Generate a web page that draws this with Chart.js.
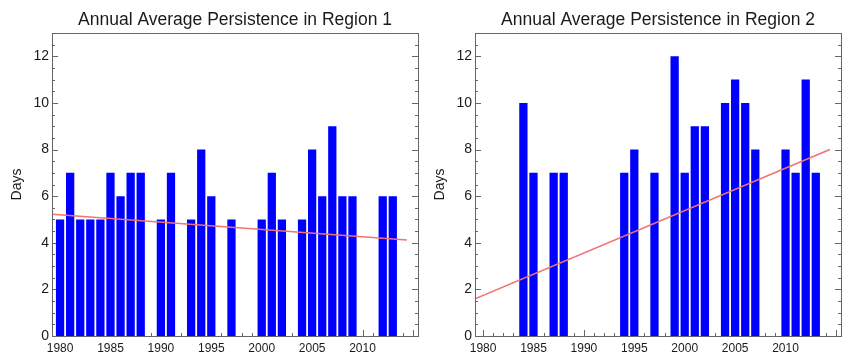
<!DOCTYPE html>
<html>
<head>
<meta charset="utf-8">
<script src="https://cdn.jsdelivr.net/npm/chart.js@4"></script>
<style>
  body { margin: 0; background: #fff; }
  .chart-box { position: absolute; top: 0; width: 425px; height: 358px; }
</style>
</head>
<body>
<div class="chart-box" style="left:0"><canvas id="region1Chart"></canvas></div>
<div class="chart-box" style="left:425px"><canvas id="region2Chart"></canvas></div>
<script>
const years = [
  1980, 1981, 1982, 1983, 1984, 1985, 1986, 1987, 1988, 1989,
  1990, 1991, 1992, 1993, 1994, 1995, 1996, 1997, 1998, 1999,
  2000, 2001, 2002, 2003, 2004, 2005, 2006, 2007, 2008, 2009,
  2010, 2011, 2012, 2013,
];
const region1Days = [
  5, 7, 5, 5, 5, 7, 6, 7, 7, null,
  5, 7, null, 5, 8, 6, null, 5, null, null,
  5, 7, 5, null, 5, 8, 6, 9, 6, 6,
  null, null, 6, 6,
];
const region2Days = [
  null, null, null, null, 10, 7, null, 7, 7, null,
  null, null, null, null, 7, 8, null, 7, null, 12,
  7, 9, 9, null, 10, 11, 10, 8, null, null,
  8, 7, 11, 7,
];
// linear trend, read at the two ends of the red line
const trendYears = [1979.2, 2014.4];
const region1Trend = [5.22, 4.12];
const region2Trend = [1.6, 8.0];

const yearTicks = [1980, 1985, 1990, 1995, 2000, 2005, 2010];
const dayTicks = [0, 2, 4, 6, 8, 10, 12];

const frameColor = "#666";
const textColor = "#1a1a1a";
const fontFamily = "'Liberation Sans', Arial, sans-serif";

// inward ticks like the IDL plot, plus the box round the plot
const plotFrame = {
  id: "plotFrame",
  beforeDatasetsDraw(chart) {
    const { ctx, chartArea: a, scales } = chart;
    const x = scales.x;
    const y = scales.y;
    ctx.save();
    ctx.strokeStyle = frameColor;
    ctx.lineWidth = 1;
    ctx.beginPath();
    for (let v = 0; v <= 13; v += 0.5) {
      const py = Math.round(y.getPixelForValue(v)) + 0.5;
      const len = v % 2 === 0 ? 6 : 3;
      ctx.moveTo(a.left, py);
      ctx.lineTo(a.left + len, py);
      ctx.moveTo(a.right, py);
      ctx.lineTo(a.right - len, py);
    }
    for (let yr = 1980; yr <= 2015; yr++) {
      const px = Math.round(x.getPixelForValue(yr)) + 0.5;
      const len = yr % 5 === 0 ? 6 : 3;
      ctx.moveTo(px, a.bottom);
      ctx.lineTo(px, a.bottom - len);
    }
    ctx.stroke();
    ctx.restore();
  },
  afterDatasetsDraw(chart) {
    const { ctx, chartArea: a } = chart;
    ctx.save();
    ctx.strokeStyle = frameColor;
    ctx.lineWidth = 1;
    ctx.strokeRect(
      Math.round(a.left) + 0.5,
      Math.round(a.top) + 0.5,
      Math.round(a.right - a.left),
      Math.round(a.bottom - a.top)
    );
    ctx.restore();
  },
};

const buildChart = (canvasId, titleText, days, trend, axisWidth, padRight, daysX) => {
  const ctx = document.getElementById(canvasId);
  if (!ctx) return null;

  return new Chart(ctx.getContext("2d"), {
    type: "bar",
    data: {
      datasets: [
        {
          type: "line",
          data: trendYears.map((yr, i) => ({ x: yr, y: trend[i] })),
          borderColor: "#f07272",
          borderWidth: 1.5,
          pointRadius: 0,
          fill: false,
          order: 0,
        },
        {
          type: "bar",
          data: years.map((yr, i) => ({ x: yr, y: days[i] })),
          backgroundColor: "#0000ff",
          borderWidth: 0,
          barPercentage: 0.82,
          categoryPercentage: 1,
          order: 1,
        },
      ],
    },
    options: {
      responsive: true,
      maintainAspectRatio: false,
      animation: false,
      layout: { padding: { left: 0, right: padRight, top: 0, bottom: 0 } },
      plugins: {
        legend: { display: false },
        tooltip: { enabled: false },
        title: {
          display: true,
          text: titleText,
          fullSize: false,
          color: textColor,
          font: { family: fontFamily, size: 17.5, weight: "normal" },
          padding: { top: 9.5, bottom: 2.5 },
        },
      },
      scales: {
        x: {
          type: "linear",
          min: 1979.2,
          max: 2015.5,
          offset: false,
          grid: { display: false, drawTicks: false },
          border: { display: false },
          afterBuildTicks: (scale) => {
            scale.ticks = yearTicks.map((v) => ({ value: v }));
          },
          afterFit: (scale) => {
            scale.height = 22;
          },
          ticks: {
            autoSkip: false,
            maxRotation: 0,
            padding: 5,
            color: textColor,
            font: { family: fontFamily, size: 12 },
            callback: (v) => String(v),
          },
        },
        y: {
          min: 0,
          max: 13,
          grid: { display: false, drawTicks: false },
          border: { display: false },
          afterBuildTicks: (scale) => {
            scale.ticks = dayTicks.map((v) => ({ value: v }));
          },
          afterFit: (scale) => {
            scale.width = axisWidth;
          },
          title: {
            display: true,
            text: "Days",
            color: textColor,
            font: { family: fontFamily, size: 14 },
            padding: { top: daysX - 8.4, bottom: 0 },
          },
          ticks: {
            padding: 3,
            color: textColor,
            font: { family: fontFamily, size: 14 },
            callback: (v) => String(v),
          },
        },
      },
    },
    plugins: [plotFrame],
  });
};

buildChart("region1Chart", "Annual Average Persistence in Region 1", region1Days, region1Trend, 52, 7, 17);
buildChart("region2Chart", "Annual Average Persistence in Region 2", region2Days, region2Trend, 50, 9, 15);
</script>
</body>
</html>
